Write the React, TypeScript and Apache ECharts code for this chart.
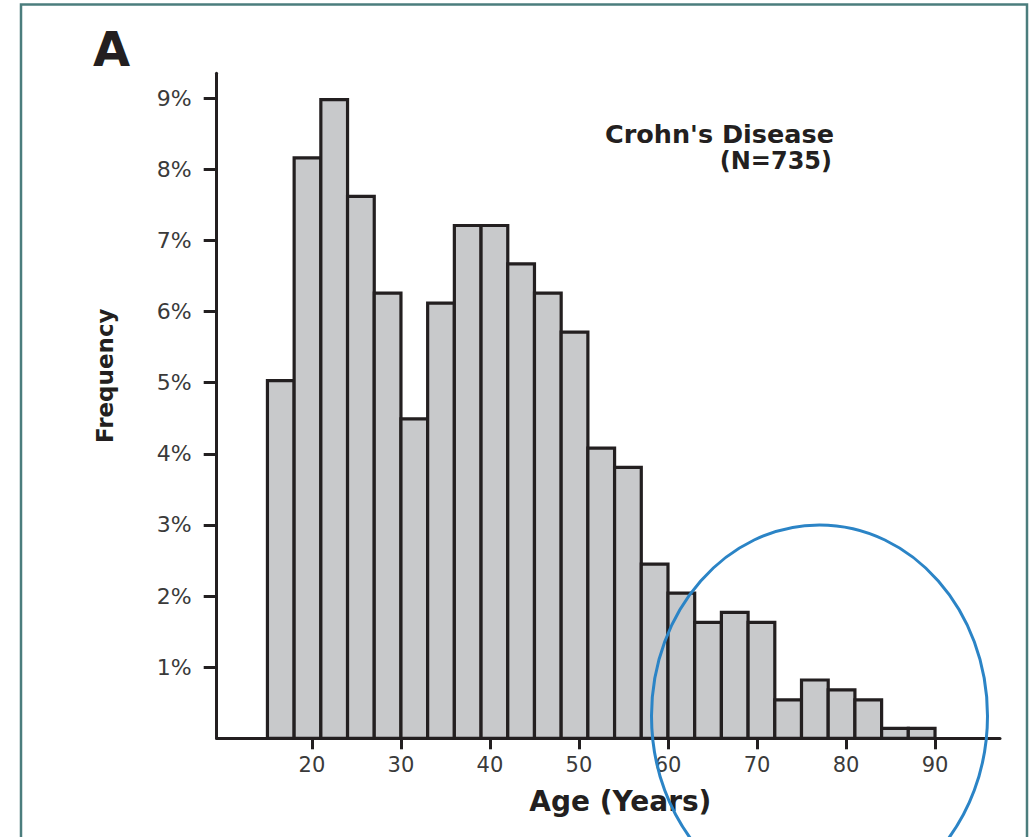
import React, { useEffect, useRef } from "react";
import * as echarts from "echarts";

// Histogram bins (age, years) and frequencies (%), Crohn's disease, N=735
const binStarts = [15, 18, 21, 24, 27, 30, 33, 36, 39, 42, 45, 48, 51, 54, 57, 60, 63, 66, 69, 72, 75, 78, 81, 84, 87];
const binEnds = [18, 21, 24, 27, 30, 33, 36, 39, 42, 45, 48, 51, 54, 57, 60, 63, 66, 69, 72, 75, 78, 81, 84, 87, 90];
const frequency = [5.03, 8.16, 8.98, 7.62, 6.26, 4.49, 6.12, 7.21, 7.21, 6.67, 6.26, 5.71, 4.08, 3.81, 2.45, 2.04, 1.63, 1.77, 1.63, 0.54, 0.82, 0.68, 0.54, 0.14, 0.14];

const xTickValues = [20, 30, 40, 50, 60, 70, 80, 90];
const yTickValues = [1, 2, 3, 4, 5, 6, 7, 8, 9];

const panelLabel = "A";
const titleLine1 = "Crohn's Disease";
const titleLine2 = "(N=735)";
const xName = "Age (Years)";
const yName = "Frequency";

const FONT = "DejaVu Sans";
const INK = "#231f20";

export default function App() {
  const ref = useRef<HTMLDivElement>(null);

  useEffect(() => {
    if (!ref.current) return;
    const chart = echarts.init(ref.current, null, { renderer: "svg" });
    const data = binStarts.map((s, i) => [s, binEnds[i], frequency[i]]);

    chart.setOption({
      animation: false,
      backgroundColor: "#ffffff",
      grid: {
        left: 216.7,
        top: 73.3,
        width: 783.3,
        height: 665,
        containLabel: false,
        outerBoundsMode: "none",
      },
      xAxis: {
        type: "value",
        min: 9.3,
        max: 97.3,
        name: xName,
        nameLocation: "middle",
        nameGap: 49,
        nameTextStyle: {
          fontFamily: FONT,
          fontWeight: "bold",
          fontSize: 28,
          color: INK,
          padding: [0, 0, 0, 24],
        },
        axisLine: { show: true, onZero: false, lineStyle: { color: INK, width: 3 } },
        axisTick: {
          show: true,
          customValues: xTickValues,
          length: 11,
          lineStyle: { color: INK, width: 3 },
        },
        axisLabel: {
          customValues: xTickValues,
          margin: 16,
          fontFamily: FONT,
          fontSize: 21,
          color: "#3a3a3a",
        },
        splitLine: { show: false },
      },
      yAxis: {
        type: "value",
        min: 0,
        max: 9.35,
        name: yName,
        nameLocation: "middle",
        nameGap: 100,
        nameRotate: 90,
        nameTextStyle: {
          fontFamily: FONT,
          fontWeight: "bold",
          fontSize: 23,
          color: INK,
          padding: [0, 0, 0, 60],
        },
        axisLine: { show: true, lineStyle: { color: INK, width: 3 } },
        axisTick: {
          show: true,
          customValues: yTickValues,
          length: 13,
          lineStyle: { color: INK, width: 3 },
        },
        axisLabel: {
          customValues: yTickValues,
          margin: 25,
          fontFamily: FONT,
          fontSize: 22,
          color: "#3a3a3a",
          formatter: (v: number) => `${v}%`,
        },
        splitLine: { show: false },
      },
      series: [
        {
          type: "custom",
          data,
          encode: { x: [0, 1], y: 2 },
          renderItem: (params: any, api: any) => {
            const s = api.value(0);
            const e = api.value(1);
            const v = api.value(2);
            const p0 = api.coord([s, v]);
            const p1 = api.coord([e, 0]);
            return {
              type: "rect",
              shape: { x: p0[0], y: p0[1], width: p1[0] - p0[0], height: p1[1] - p0[1] },
              style: { fill: "#c8c9cb", stroke: INK, lineWidth: 3.2 },
            };
          },
          z: 1,
        },
      ],
      graphic: [
        {
          type: "rect",
          shape: { x: 21, y: 4.5, width: 1006, height: 900 },
          style: { fill: "none", stroke: "#4b7d7d", lineWidth: 2.5 },
          silent: true,
          z: 0,
        },
        {
          type: "text",
          x: 93,
          y: 49,
          style: {
            text: panelLabel,
            fontFamily: FONT,
            fontWeight: "bold",
            fontSize: 48,
            fill: INK,
            textAlign: "left",
            textVerticalAlign: "middle",
          },
        },
        {
          type: "text",
          x: 834,
          y: 134,
          style: {
            text: titleLine1,
            fontFamily: FONT,
            fontWeight: "bold",
            fontSize: 25.5,
            fill: INK,
            textAlign: "right",
            textVerticalAlign: "middle",
          },
        },
        {
          type: "text",
          x: 832,
          y: 161,
          style: {
            text: titleLine2,
            fontFamily: FONT,
            fontWeight: "bold",
            fontSize: 24,
            fill: INK,
            textAlign: "right",
            textVerticalAlign: "middle",
          },
        },
        {
          type: "ellipse",
          shape: { cx: 819.5, cy: 716, rx: 168, ry: 191 },
          style: { fill: "none", stroke: "#2b84c6", lineWidth: 3 },
          silent: true,
          z: 100,
        },
      ],
    });

    return () => chart.dispose();
  }, []);

  return (
    <div
      ref={ref}
      style={{ position: "fixed", left: 0, top: 0, width: 1033, height: 837, background: "#fff" }}
    />
  );
}
